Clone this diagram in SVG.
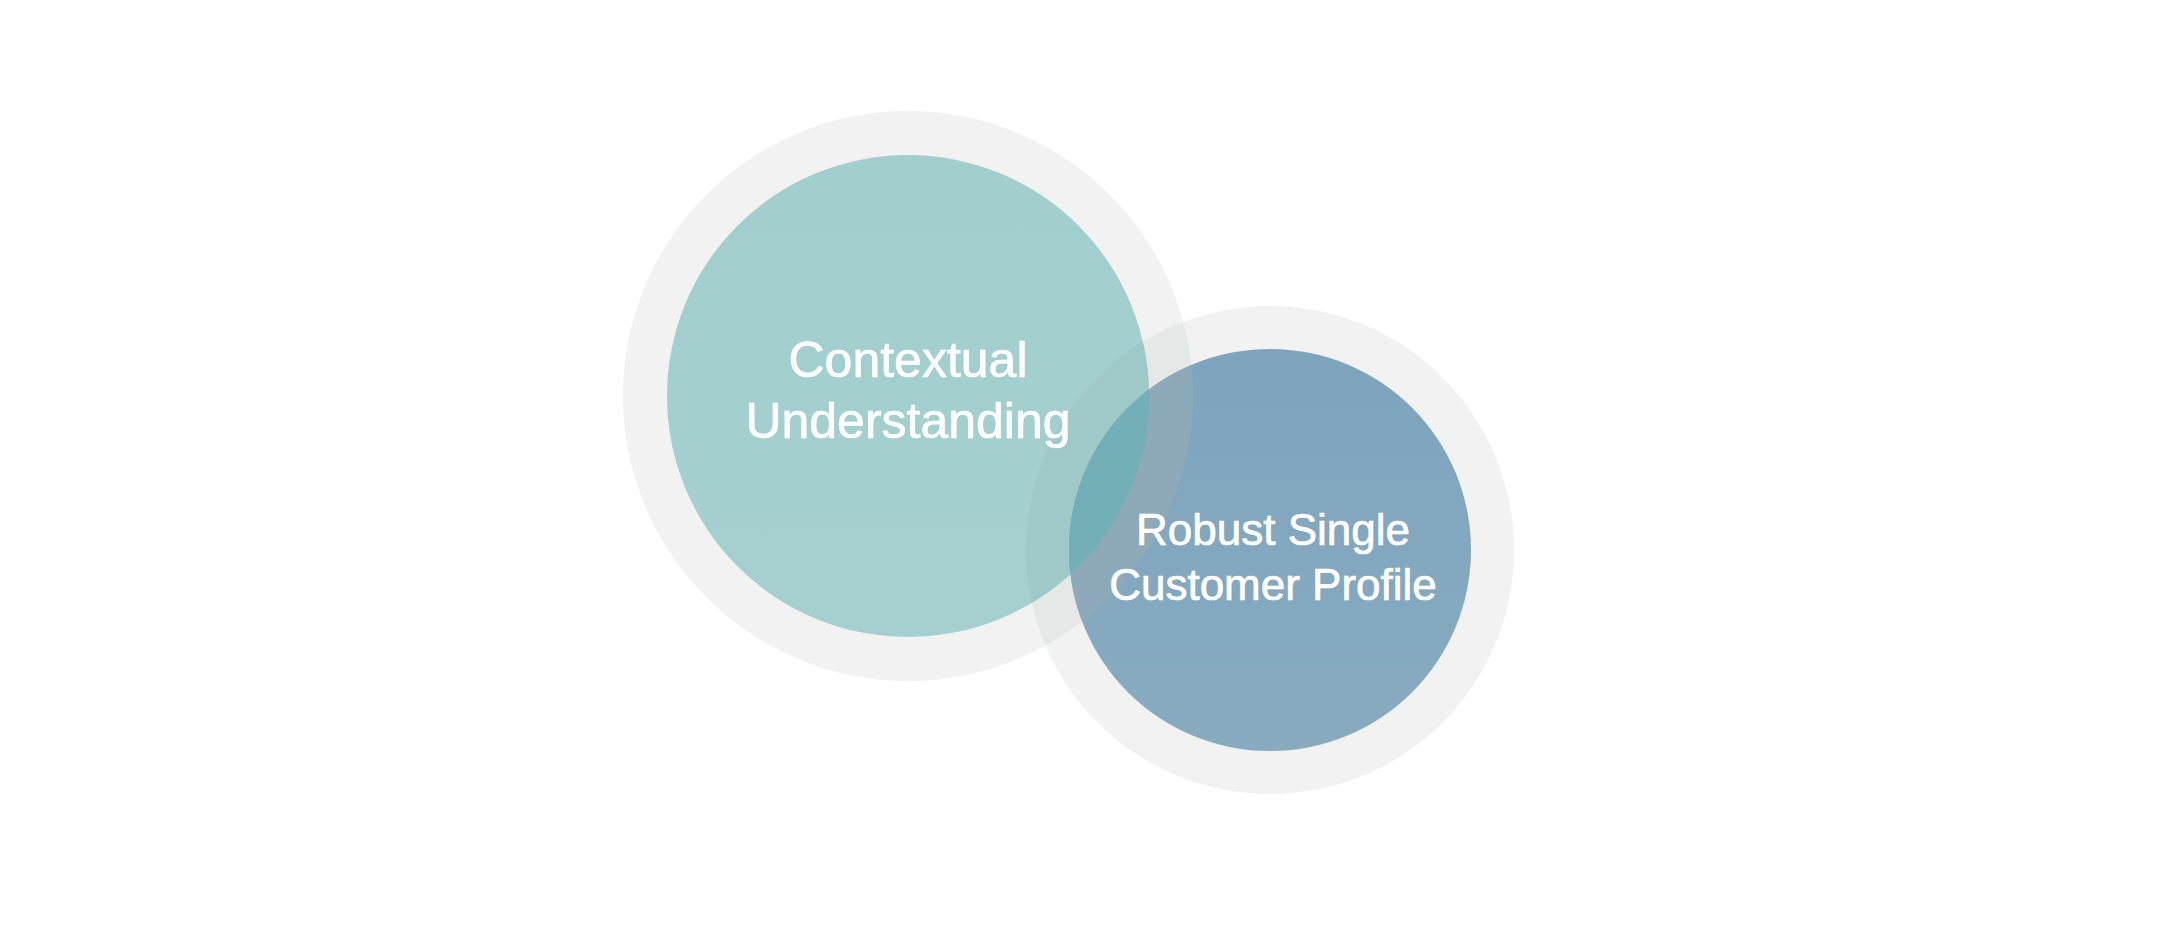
<svg xmlns="http://www.w3.org/2000/svg" width="2182" height="934" viewBox="0 0 2182 934">
  <style>
    .lbl { font-family: "Liberation Sans", Arial, Helvetica, sans-serif; fill: #ffffff; stroke: #ffffff; stroke-width: 0.7; text-anchor: middle; }
    .ring { fill: #f2f2f2; }
  </style>
  <defs>
    <linearGradient id="blueGrad" x1="0" y1="0" x2="0" y2="1">
      <stop offset="0" stop-color="#7ea4be"/>
      <stop offset="1" stop-color="#88abc0"/>
    </linearGradient>
    <linearGradient id="tealGrad" x1="0" y1="0" x2="0" y2="1">
      <stop offset="0" stop-color="#a2cece"/>
      <stop offset="1" stop-color="#a6d0d0"/>
    </linearGradient>
    <clipPath id="clipRing1"><circle cx="908" cy="396" r="285"/></clipPath>
    <clipPath id="clipTeal"><circle cx="908" cy="396" r="241"/></clipPath>
  </defs>
  <rect width="2182" height="934" fill="#ffffff"/>

  <g id="node-contextual-ring">
    <circle class="ring" cx="908" cy="396" r="285"/>
  </g>
  <g id="node-profile-ring">
    <circle class="ring" cx="1270" cy="550" r="244"/>
    <circle cx="1270" cy="550" r="244" fill="#e6e8e8" clip-path="url(#clipRing1)"/>
  </g>
  <g id="node-contextual">
    <circle cx="908" cy="396" r="241" fill="url(#tealGrad)"/>
    <circle cx="1270" cy="550" r="244" fill="#9fc9c8" clip-path="url(#clipTeal)"/>
  </g>
  <g id="node-profile">
    <circle cx="1270" cy="550" r="201" fill="url(#blueGrad)"/>
    <circle cx="1270" cy="550" r="201" fill="#8da9ba" clip-path="url(#clipRing1)"/>
    <circle cx="1270" cy="550" r="201" fill="#72afb6" clip-path="url(#clipTeal)"/>
  </g>
  <g id="labels">
    <text class="lbl" x="908" y="377" font-size="50">Contextual</text>
    <text class="lbl" x="908" y="438" font-size="50">Understanding</text>
    <text class="lbl" x="1273" y="545" font-size="44">Robust Single</text>
    <text class="lbl" x="1273" y="600" font-size="44">Customer Profile</text>
  </g>
  <g id="connectors"/>
</svg>
